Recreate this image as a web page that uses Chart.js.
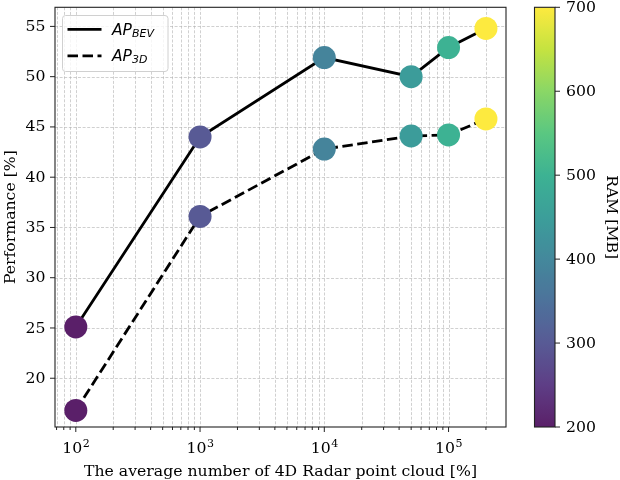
<!DOCTYPE html>
<html><head><meta charset="utf-8">
<script src="https://cdn.jsdelivr.net/npm/chart.js@4/dist/chart.umd.min.js"></script>
<style>html,body{margin:0;padding:0;background:#fff;}</style>
</head><body>
<canvas id="c" width="620" height="480" style="width:620px;height:480px;display:block"></canvas>
<script>
// ---- data ----
const pointCounts = [100, 1000, 10000, 50000, 100000, 200000];
const apBev = [25.1, 44.0, 51.9, 50.0, 52.9, 54.8];
const ap3d = [16.8, 36.1, 42.8, 44.1, 44.2, 45.8];
const ramMB = [200, 300, 390, 445, 500, 700];
const yTickValues = [20, 25, 30, 35, 40, 45, 50, 55];
const xMajorTicks = [100, 1000, 10000, 100000];
const colorbarTicks = [200, 300, 400, 500, 600, 700];
const seriesNames = ['BEV', '3D'];
const xTitle = 'The average number of 4D Radar point cloud [%]';
const yTitle = 'Performance [%]';
const cbTitle = 'RAM [MB]';
const ramRange = [200, 700];
const xRange = [68, 290000];
const yRange = [15.15, 56.9];

// ---- style ----
const VIRIDIS = ['#440154','#482475','#414487','#355f8d','#2a788e','#21918c','#22a884','#44bf70','#7ad151','#bddf26','#fde725'];
const CMAP_ALPHA = 0.88;
function hex(c){return [parseInt(c.slice(1,3),16),parseInt(c.slice(3,5),16),parseInt(c.slice(5,7),16)];}
function blend(rgb){return rgb.map(v => Math.round(v*CMAP_ALPHA + 255*(1-CMAP_ALPHA)));}
function viridis(t){
  t=Math.max(0,Math.min(1,t));
  const p=t*(VIRIDIS.length-1), i=Math.min(Math.floor(p),VIRIDIS.length-2), f=p-i;
  const a=hex(VIRIDIS[i]), b=hex(VIRIDIS[i+1]);
  return 'rgb('+blend(a.map((v,k)=>v+(b[k]-v)*f)).join(',')+')';
}
const ramColors = ramMB.map(v => viridis((v-ramRange[0])/(ramRange[1]-ramRange[0])));
const SERIF = '"DejaVu Serif", serif';
const SANS = '"DejaVu Sans", sans-serif';
const FS = 15.7;

// minor log ticks inside the range
const xAllTicks = [];
for (let d = 10; d <= 1e6; d *= 10) for (let m = 1; m <= 9; m++) {
  const v = d*m; if (v >= xRange[0] && v <= xRange[1]) xAllTicks.push(v);
}

const customPlugin = {
  id: 'custom',
  beforeDatasetsDraw(chart) {
    const {ctx, chartArea: a, scales: {x, y}} = chart;
    ctx.save();
    ctx.strokeStyle = 'rgba(176,176,176,0.75)';
    ctx.lineWidth = 0.8;
    ctx.setLineDash([3, 1.6]);
    xAllTicks.forEach(v => {
      const px = Math.round(x.getPixelForValue(v)) + 0.5;
      ctx.beginPath(); ctx.moveTo(px, a.top); ctx.lineTo(px, a.bottom); ctx.stroke();
    });
    yTickValues.forEach(v => {
      const py = Math.round(y.getPixelForValue(v)) + 0.5;
      ctx.beginPath(); ctx.moveTo(a.left, py); ctx.lineTo(a.right, py); ctx.stroke();
    });
    ctx.restore();
  },
  afterDraw(chart) {
    const {ctx, chartArea: a, scales: {x, y}} = chart;
    ctx.save();
    // spines
    ctx.strokeStyle = '#222'; ctx.lineWidth = 1.1; ctx.setLineDash([]);
    ctx.strokeRect(a.left, a.top, a.right - a.left, a.bottom - a.top);
    // tick marks
    ctx.lineWidth = 1;
    ctx.strokeStyle = '#222';
    xAllTicks.forEach(v => {
      const px = x.getPixelForValue(v);
      const major = xMajorTicks.includes(v);
      ctx.beginPath(); ctx.moveTo(px, a.bottom); ctx.lineTo(px, a.bottom + (major ? 5 : 3)); ctx.stroke();
    });
    ctx.fillStyle = '#000';
    ctx.font = FS + 'px ' + SERIF;
    ctx.textAlign = 'right'; ctx.textBaseline = 'middle';
    yTickValues.forEach(v => {
      const py = y.getPixelForValue(v);
      ctx.beginPath(); ctx.moveTo(a.left, py); ctx.lineTo(a.left - 5, py); ctx.stroke();
      ctx.fillText(String(v), a.left - 9.5, py + 0.5);
    });
    // x tick labels with superscripts
    ctx.textBaseline = 'alphabetic';
    xMajorTicks.forEach(v => {
      const px = x.getPixelForValue(v);
      const base = '10', exp = String(Math.round(Math.log10(v)));
      ctx.font = FS + 'px ' + SERIF;
      const wb = ctx.measureText(base).width;
      ctx.font = (FS*0.7).toFixed(1) + 'px ' + SERIF;
      const we = ctx.measureText(exp).width;
      const x0 = px - (wb + we) / 2;
      ctx.font = FS + 'px ' + SERIF;
      ctx.textAlign = 'left';
      ctx.fillText(base, x0, a.bottom + 26);
      ctx.font = (FS*0.7).toFixed(1) + 'px ' + SERIF;
      ctx.fillText(exp, x0 + wb + 0.5, a.bottom + 19.5);
    });
    // axis titles
    ctx.font = FS + 'px ' + SERIF;
    ctx.textAlign = 'center';
    ctx.textBaseline = 'alphabetic';
    ctx.fillText(xTitle, (a.left + a.right) / 2, 476);
    ctx.save();
    ctx.translate(15, (a.top + a.bottom) / 2);
    ctx.rotate(-Math.PI / 2);
    ctx.fillText(yTitle, 0, 0);
    ctx.restore();

    // legend
    const lx = 62.5, ly = 15.5, lw = 105.5, lh = 56;
    ctx.beginPath();
    if (ctx.roundRect) ctx.roundRect(lx, ly, lw, lh, 3); else ctx.rect(lx, ly, lw, lh);
    ctx.fillStyle = 'rgba(255,255,255,0.8)'; ctx.fill();
    ctx.strokeStyle = '#d0d0d0'; ctx.lineWidth = 1; ctx.stroke();
    const rows = [29.3, 55.8];
    chart.data.datasets.forEach((ds, i) => {
      ctx.strokeStyle = '#000'; ctx.lineWidth = ds.borderWidth;
      ctx.setLineDash(ds.borderDash || []);
      ctx.beginPath(); ctx.moveTo(67.5, rows[i]); ctx.lineTo(101.5, rows[i]); ctx.stroke();
      ctx.setLineDash([]);
      ctx.fillStyle = '#000';
      ctx.textAlign = 'left'; ctx.textBaseline = 'alphabetic';
      ctx.font = 'italic 15.5px ' + SANS;
      ctx.fillText('AP', 112, rows[i] + 5.5);
      const w = ctx.measureText('AP').width;
      ctx.font = 'italic 11px ' + SANS;
      ctx.fillText(seriesNames[i], 112 + w, rows[i] + 7.5);
    });

    // colorbar
    const cx0 = 534.5, cx1 = 555, cy0 = a.top, cy1 = a.bottom;
    const g = ctx.createLinearGradient(0, cy1, 0, cy0);
    for (let k = 0; k <= 50; k++) g.addColorStop(k / 50, viridis(k / 50));
    ctx.fillStyle = g;
    ctx.fillRect(cx0, cy0, cx1 - cx0, cy1 - cy0);
    ctx.strokeStyle = '#222'; ctx.lineWidth = 1.1;
    ctx.strokeRect(cx0, cy0, cx1 - cx0, cy1 - cy0);
    ctx.font = FS + 'px ' + SERIF;
    ctx.fillStyle = '#000';
    ctx.textAlign = 'left'; ctx.textBaseline = 'middle';
    ctx.lineWidth = 1;
    colorbarTicks.forEach(v => {
      const py = cy1 - (v - ramRange[0]) / (ramRange[1] - ramRange[0]) * (cy1 - cy0);
      ctx.beginPath(); ctx.moveTo(cx1, py); ctx.lineTo(cx1 + 5, py); ctx.stroke();
      ctx.fillText(String(v), cx1 + 11, py + 0.5);
    });
    ctx.save();
    ctx.translate(607, (cy0 + cy1) / 2);
    ctx.rotate(Math.PI / 2);
    ctx.textAlign = 'center'; ctx.textBaseline = 'alphabetic';
    ctx.fillText(cbTitle, 0, 0);
    ctx.restore();

    ctx.restore();
  }
};

new Chart(document.getElementById('c'), {
  type: 'line',
  data: {
    datasets: [
      { label: 'AP_BEV', data: pointCounts.map((v, i) => ({x: v, y: apBev[i]})),
        borderColor: '#000', borderWidth: 2.8, borderDash: [],
        pointRadius: 11.5, pointHoverRadius: 11.5, pointBorderWidth: 0,
        pointBackgroundColor: ramColors, tension: 0, clip: false },
      { label: 'AP_3D', data: pointCounts.map((v, i) => ({x: v, y: ap3d[i]})),
        borderColor: '#000', borderWidth: 2.8, borderDash: [10.5, 4.5],
        pointRadius: 11.5, pointHoverRadius: 11.5, pointBorderWidth: 0,
        pointBackgroundColor: ramColors, tension: 0, clip: false }
    ]
  },
  options: {
    responsive: false, animation: false, devicePixelRatio: 1,
    events: [],
    layout: { autoPadding: false, padding: { left: 0, top: 7.3, right: 114, bottom: 0 } },
    plugins: { legend: { display: false }, tooltip: { enabled: false } },
    scales: {
      x: {
        type: 'logarithmic', min: xRange[0], max: xRange[1],
        afterBuildTicks: s => { s.ticks = xAllTicks.map(v => ({value: v, major: xMajorTicks.includes(v)})); },
        afterFit: s => { s.height = 53; },
        ticks: { display: false },
        grid: { display: false, drawTicks: false },
        border: { display: false }
      },
      y: {
        type: 'linear', min: yRange[0], max: yRange[1],
        afterBuildTicks: s => { s.ticks = yTickValues.map(v => ({value: v})); },
        afterFit: s => { s.width = 55; },
        ticks: { display: false },
        grid: { display: false, drawTicks: false },
        border: { display: false }
      }
    }
  },
  plugins: [customPlugin]
});
</script>
</body></html>
